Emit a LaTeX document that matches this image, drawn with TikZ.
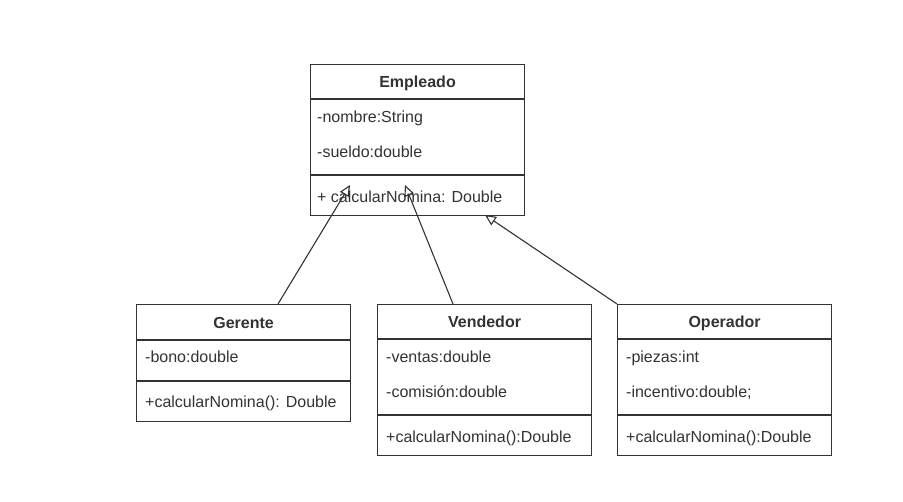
\documentclass[tikz,border=0pt]{standalone}
\usepackage{fontspec}
\setmainfont{Liberation Sans}
\usetikzlibrary{arrows.meta,positioning}
\definecolor{umlline}{HTML}{333333}
\definecolor{umlink}{HTML}{333333}
\newcommand\umlfont{\fontsize{16}{19}\selectfont}
\tikzset{
  part/.style={draw=umlline, line width=1.1pt, minimum width=214pt, anchor=north west, inner sep=0pt, text=umlink},
  head/.style={part, font=\umlfont\bfseries, text height=14pt, text depth=2pt},
  txt/.style={anchor=west, inner sep=0pt, text=umlink, text height=14pt, text depth=2pt},
  inh/.style={draw=umlline, line width=1.1pt, -{Triangle[open,length=11pt,width=10pt]}},
}
\begin{document}
\begin{tikzpicture}[x=1pt,y=-1pt,font=\umlfont]
\useasboundingbox[fill=white] (0,0) rectangle (903,502);

% Empleado
\node[head, minimum height=34pt] (emp) at (310,64) {Empleado};
\node[part, minimum height=75pt] (emp-a) at (emp.south west) {};
\node[part, minimum height=40pt] (emp-m) at (emp-a.south west) {};
\node[txt](emp1) at (317,117) {-nombre:String};
\node[txt](emp2) at (317,152) {-sueldo:double};
\node[txt](emp3) at (317,197) {+ calcularNomina: Double};

% Gerente
\node[head, minimum height=35pt] (ger) at (136,304) {Gerente};
\node[part, minimum height=40pt] (ger-a) at (ger.south west) {};
\node[part, minimum height=40pt] (ger-m) at (ger-a.south west) {};
\node[txt](ger1) at (145,357) {-bono:double};
\node[txt](ger2) at (145,402) {+calcularNomina(): Double};

% Vendedor
\node[head, minimum height=34pt] (ven) at (377,304) {Vendedor};
\node[part, minimum height=75pt] (ven-a) at (ven.south west) {};
\node[part, minimum height=40pt] (ven-m) at (ven-a.south west) {};
\node[txt](ven1) at (386,357) {-ventas:double};
\node[txt](ven2) at (386,392) {-comisión:double};
\node[txt](ven3) at (386,437) {+calcularNomina():Double};

% Operador
\node[head, minimum height=34pt] (ope) at (617,304) {Operador};
\node[part, minimum height=75pt] (ope-a) at (ope.south west) {};
\node[part, minimum height=40pt] (ope-m) at (ope-a.south west) {};
\node[txt](ope1) at (626,357) {-piezas:int};
\node[txt](ope2) at (626,392) {-incentivo:double;};
\node[txt](ope3) at (626,437) {+calcularNomina():Double};

\coordinate (g-end) at (278,304);
\coordinate (g-tip) at (350,185);
\coordinate (v-end) at (453,304);
\coordinate (v-tip) at (405,185);
\coordinate (o-tip) at (485,215);

\draw[inh] (g-end) -- (g-tip);
\draw[inh] (v-end) -- (v-tip);
\draw[inh] (ope.north west) -- (o-tip);

\end{tikzpicture}
\end{document}
